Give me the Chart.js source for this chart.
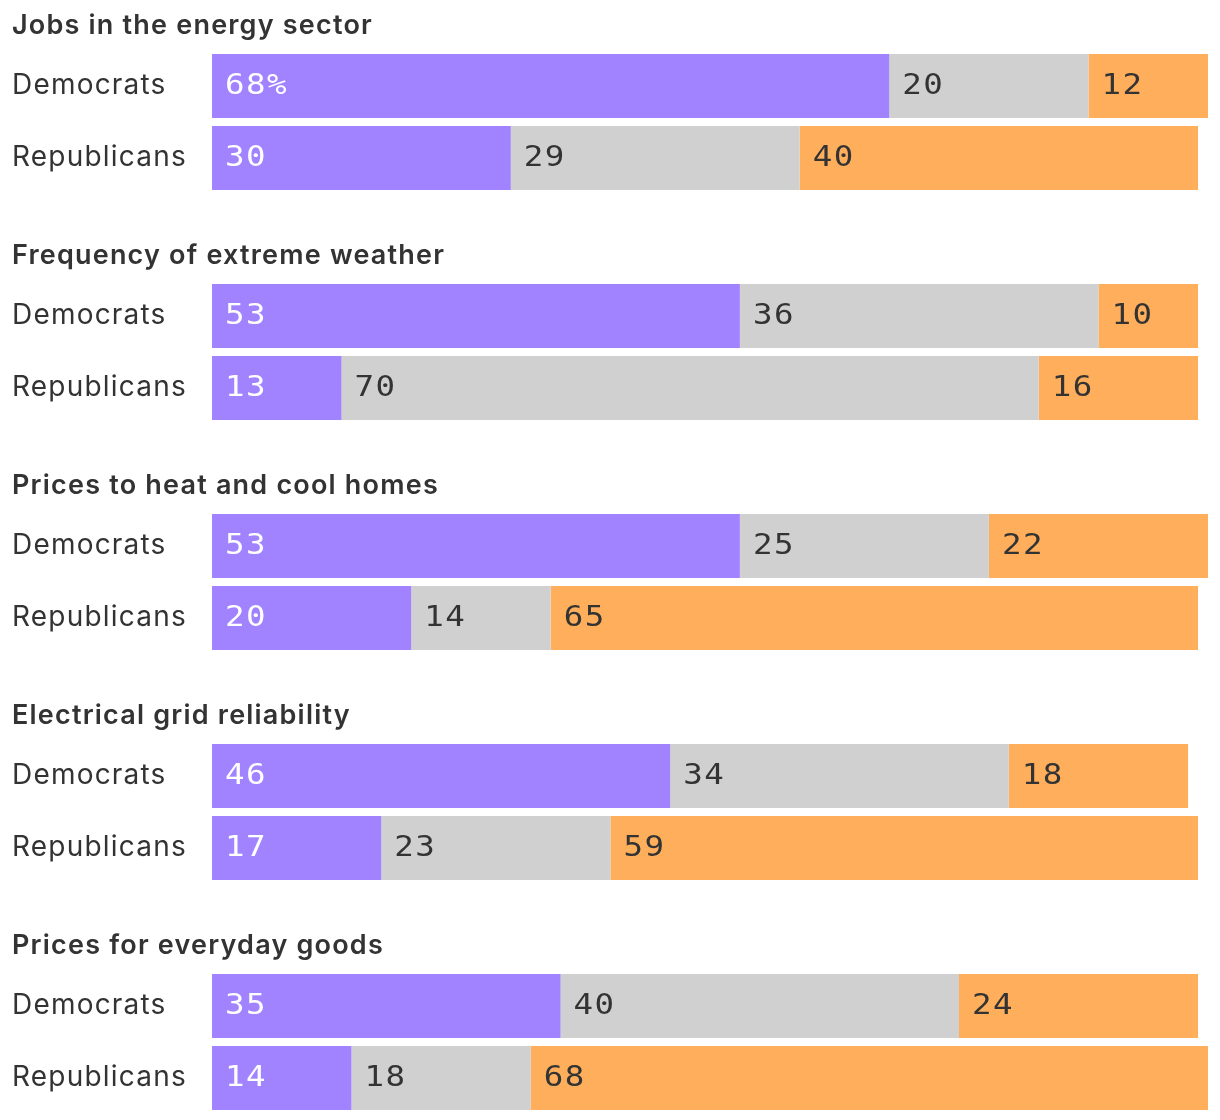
<!DOCTYPE html>
<html>
<head>
<meta charset="utf-8">
<script src="https://cdn.jsdelivr.net/npm/chart.js@4"></script>
<style>
  html, body { margin: 0; padding: 0; background: #fff; overflow: hidden; }
  .grp { width: 1220px; height: 230px; }
  canvas { display: block; }
</style>
</head>
<body>
<div id="wrap"></div>
<script>
// ---- data ----
const topics = [
  'Jobs in the energy sector',
  'Frequency of extreme weather',
  'Prices to heat and cool homes',
  'Electrical grid reliability',
  'Prices for everyday goods'
];
const parties = ['Democrats', 'Republicans'];
const seriesNames = ['First response', 'Middle response', 'Last response'];

const demFirst = [68, 53, 53, 46, 35];
const demMid   = [20, 36, 25, 34, 40];
const demLast  = [12, 10, 22, 18, 24];
const repFirst = [30, 13, 20, 17, 14];
const repMid   = [29, 70, 14, 23, 18];
const repLast  = [40, 16, 65, 59, 68];

const xTicks = { min: 0, max: 100 };

// ---- styles ----
const colors = ['#a182ff', '#cfd0cf', '#ffae5c'];
const textColors = ['#ffffff', '#333333', '#333333'];
const labelFont = 'Inter, "Noto Sans", sans-serif';
const monoFont = '"DejaVu Sans Mono", "Liberation Mono", monospace';

const spacing = {
  id: 'spacing',
  beforeDraw(chart) { chart.ctx.letterSpacing = '1.2px'; }
};

const valueLabels = {
  id: 'valueLabels',
  afterDatasetsDraw(chart) {
    const ctx = chart.ctx;
    const gi = chart.options.plugins.valueLabels.groupIndex;
    ctx.save();
    ctx.letterSpacing = '0px';
    ctx.font = '28px ' + monoFont;
    ctx.textBaseline = 'middle';
    ctx.textAlign = 'left';
    const adv = 21;
    chart.data.datasets.forEach((ds, di) => {
      const meta = chart.getDatasetMeta(di);
      meta.data.forEach((bar, i) => {
        let txt = String(ds.data[i]);
        if (gi === 0 && di === 0 && i === 0) txt += '%';
        ctx.fillStyle = textColors[di];
        const x0 = Math.min(bar.base, bar.x) + 13;
        for (let k = 0; k < txt.length; k++) {
          ctx.save();
          ctx.translate(x0 + k * adv, bar.y + 0.5);
          ctx.scale(1.16, 1);
          ctx.fillText(txt[k], 0, 0);
          ctx.restore();
        }
      });
    });
    ctx.restore();
  }
};

const wrap = document.getElementById('wrap');
topics.forEach((topic, g) => {
  const div = document.createElement('div');
  div.className = 'grp';
  const cv = document.createElement('canvas');
  cv.width = 1220; cv.height = 230;
  div.appendChild(cv);
  wrap.appendChild(div);

  const series = [
    [demFirst[g], repFirst[g]],
    [demMid[g], repMid[g]],
    [demLast[g], repLast[g]]
  ];

  new Chart(cv, {
    type: 'bar',
    data: {
      labels: parties,
      datasets: series.map((d, i) => ({
        label: seriesNames[i],
        data: d,
        backgroundColor: colors[i],
        borderWidth: 0,
        categoryPercentage: 1,
        barPercentage: 64 / 72
      }))
    },
    options: {
      indexAxis: 'y',
      responsive: false,
      animation: false,
      layout: { padding: { left: 12, right: 12, top: 0, bottom: 36 } },
      scales: {
        x: {
          stacked: true, display: false,
          min: xTicks.min, max: xTicks.max
        },
        y: {
          stacked: true,
          grid: { display: false },
          border: { display: false },
          afterFit(scale) { scale.width = 200; },
          ticks: {
            crossAlign: 'far',
            padding: 0,
            color: '#333333',
            font: { family: labelFont, size: 28, weight: 'normal' }
          }
        }
      },
      plugins: {
        legend: { display: false },
        tooltip: { enabled: false },
        title: {
          display: true,
          text: topic,
          align: 'start',
          color: '#333333',
          font: { family: labelFont, size: 27, weight: '600', lineHeight: 1.2 },
          padding: { top: 10, bottom: 7.6 }
        },
        valueLabels: { groupIndex: g }
      }
    },
    plugins: [spacing, valueLabels]
  });
});
</script>
</body>
</html>
